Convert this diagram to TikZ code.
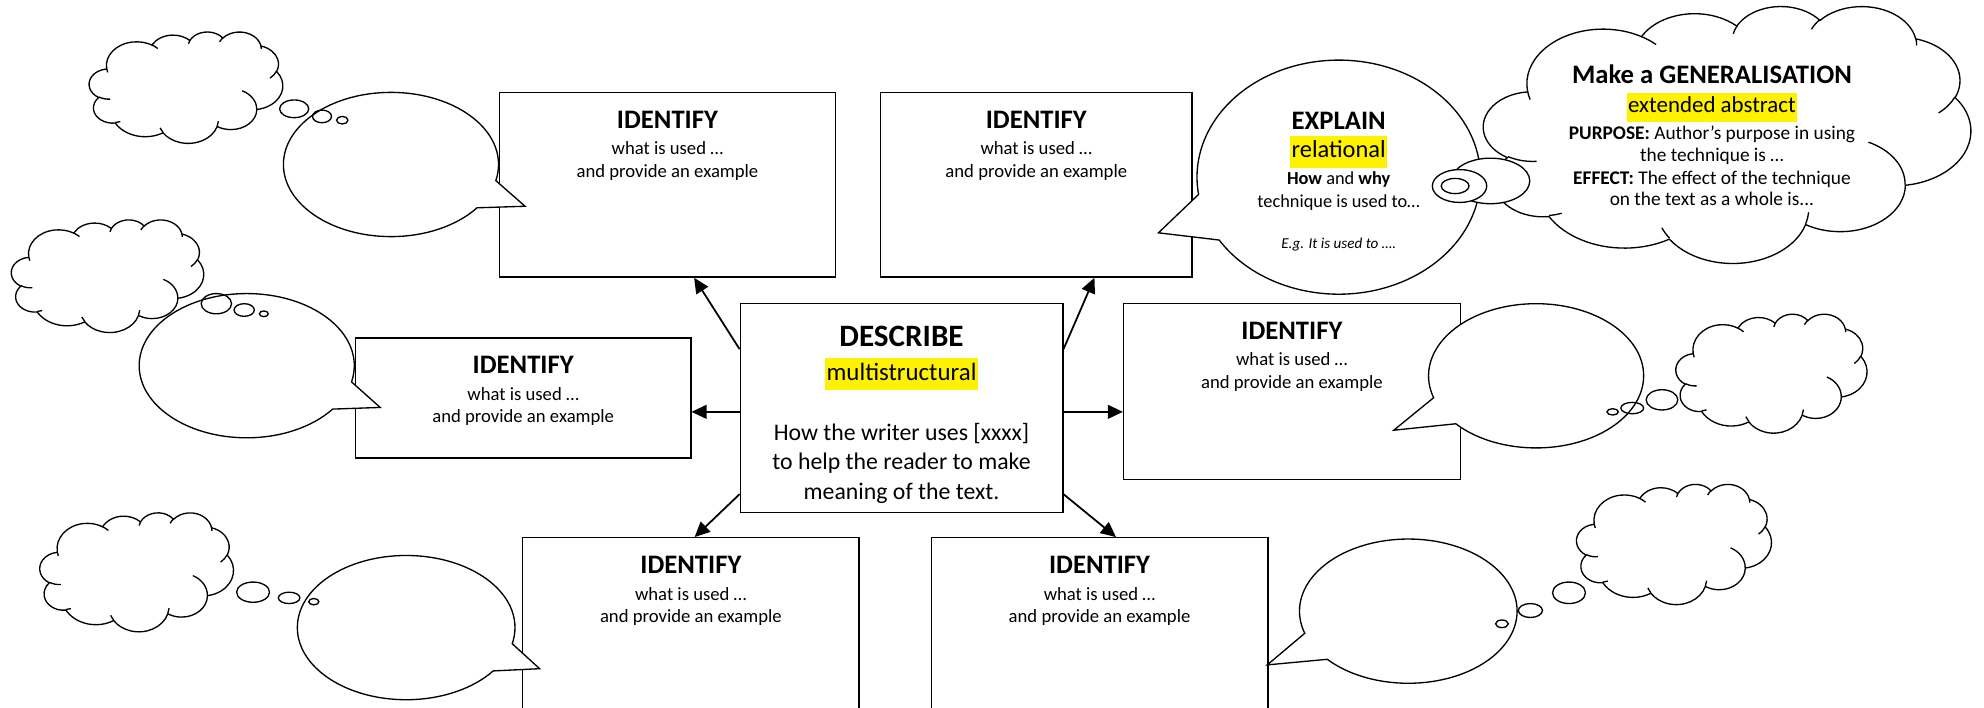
\documentclass[tikz,border=0pt]{standalone}
\usepackage{fontspec}
\setmainfont{Carlito}
\usepackage{tikz}
\usetikzlibrary{positioning,shapes.callouts,arrows.meta}
\setlength{\fboxsep}{0.6pt}
\newcommand{\hl}[1]{\colorbox{yellow}{\strut #1}}
\newcommand{\identify}{{\fontsize{12}{12}\selectfont\bfseries IDENTIFY}\\[1.7pt]what is used …\\and provide an example}

% office style cloud: radii and angles of its arcs, in a 432 x 432 box
\newcommand{\msouter}{67.53/91.90/-190.4875/123.7805, 53.33/72.67/-144.1024/89.9452,
  43.65/59.45/-145.8079/99.7230, 48.57/65.95/-130.9861/117.2417, 53.33/72.73/-78.7089/109.0269,
  67.75/92.20/-46.2673/130.2690, 57.85/78.67/0.6250/114.0333, 67.52/92.15/22.4516/115.1726,
  77.20/105.43/66.2426/75.7110, 43.60/59.18/-274.9421/146.7356, 43.45/59.45/-246.8285/152.5189}
\newcommand{\msinner}{46.93/261.77/43.45/59.45/86.7420/26.4295, 69.28/348.99/43.60/59.18/73.6105/11.4475,
  164.78/390.90/67.52/92.15/137.6242/14.0811, 288.27/347.51/67.52/92.15/6.4533/15.9984,
  341.29/229.54/57.85/78.67/-70.2924/70.9174, 417.98/153.54/53.33/72.73/30.3180/27.7515,
  383.24/54.26/48.57/65.95/-13.7443/14.8589, 290.78/39.52/48.57/65.95/-149.1815/18.1954,
  221.41/47.20/43.65/59.45/-163.4943/17.6864, 140.00/51.92/67.53/91.90/-66.7070/12.3194,
  41.27/157.89/67.53/91.90/157.6544/11.8582}
\newcommand{\msangles}[4]{%
  \pgfmathsetmacro{\msTs}{atan2((#1)*sin(#3),(#2)*cos(#3))}%
  \pgfmathsetmacro{\msTr}{atan2((#1)*sin((#3)+(#4)),(#2)*cos((#3)+(#4)))}%
  \pgfmathsetmacro{\msTe}{\msTs+(#4)+mod((\msTr)-(\msTs)-(#4)+1260,360)-180}%
}
\newcommand{\mscloud}[3]{% centre, width, height
  \begin{scope}[shift={#1}, xscale=#2/432, yscale=#3/432, shift={(-216,-216)}]
    \draw[outline] (39,143.7) foreach \wr/\hr/\st/\sw in \msouter
      {\pgfextra{\msangles{\wr}{\hr}{\st}{\sw}} arc[start angle=\msTs, end angle=\msTe, x radius=\wr, y radius=\hr]} -- cycle;
    \draw[outline] foreach \px/\py/\wr/\hr/\st/\sw in \msinner
      {(\px,\py) \pgfextra{\msangles{\wr}{\hr}{\st}{\sw}} arc[start angle=\msTs, end angle=\msTe, x radius=\wr, y radius=\hr]};
  \end{scope}
}

\tikzset{
  outline/.style={line width=0.6pt},
  idbox/.style={draw, outline, fill=white, minimum width=53.2mm, minimum height=29.2mm, inner sep=0pt},
  idtext/.style={align=center, anchor=north, inner sep=0pt, font=\fontsize{8.4}{10.1}\selectfont},
  bubble/.style={ellipse callout, draw, outline, fill=white, callout pointer arc=24, inner sep=0pt, minimum width=34mm, minimum height=22.8mm},
  trail/.style={draw, outline},
  link/.style={line width=0.8pt, -{Triangle[length=2.4mm,width=2.2mm]}},
}

\begin{document}
\begin{tikzpicture}[x=0.2mm, y=-0.2mm]
\useasboundingbox (0,0) rectangle (1568,559);

% the six IDENTIFY boxes and the DESCRIBE box
\node[idbox] (idTL) at (527.5,146) {};
\node[idbox, minimum width=49.2mm] (idTM) at (819,146) {};
\node[idbox, minimum width=53mm, minimum height=19mm] (idML) at (413.5,314.5) {};
\node[idbox, minimum height=27.8mm] (idMR) at (1021,309.5) {};
\node[idbox, minimum height=30mm] (idBL) at (546,500) {};
\node[idbox, minimum height=30mm] (idBR) at (869,500) {};
\node[idbox, minimum width=51mm, minimum height=33mm] (desc) at (712.5,322.5) {};

\node[idtext] (tTL) at ([yshift=-3mm]idTL.north) {\identify};
\node[idtext] (tTM) at ([yshift=-3mm]idTM.north) {\identify};
\node[idtext] (tML) at ([yshift=-3mm]idML.north) {\identify};
\node[idtext] (tMR) at ([yshift=-3mm]idMR.north) {\identify};
\node[idtext] (tBL) at ([yshift=-3mm]idBL.north) {\identify};
\node[idtext] (tBR) at ([yshift=-3mm]idBR.north) {\identify};
\node[idtext, font=\fontsize{10.7}{13.3}\selectfont] (tDesc) at ([yshift=-3.6mm]desc.north)
  {{\fontsize{14}{14}\selectfont\bfseries DESCRIBE}\\[1.7pt]
   {\fontsize{11.2}{13.3}\selectfont\hl{multistructural}}\\[13.7pt]
   How the writer uses [xxxx]\\to help the reader to make\\meaning of the text.};

% arrows out of DESCRIBE
\draw[link] (desc.160) -- (idTL.-74);
\draw[link] (desc.20) -- (idTM.-58);
\draw[link] ([yshift=-0.6mm]desc.west) -- ([yshift=-0.6mm]desc.west -| idML.east);
\draw[link] ([yshift=-0.6mm]desc.east) -- ([yshift=-0.6mm]desc.east -| idMR.west);
\draw[link] (desc.208) -- ([xshift=0.6mm]idBL.north);
\draw[link] (desc.-28) -- ([xshift=2.6mm]idBR.north);

% speech bubbles
\node[bubble, callout absolute pointer={([shift={(21,17)}]idTL.west)}] (sbTL) at (309,130) {};
\node[bubble, callout absolute pointer={([shift={(20,7.5)}]idML.west)}] (sbML) at (195,289) {};
\node[bubble, minimum width=34.4mm, callout absolute pointer={([shift={(14,104)}]idBL.north west)}] (sbBL) at (321,496) {};
\node[bubble, callout absolute pointer={([shift={(-53,30.5)}]idMR.east)}] (sbMR) at (1214,297) {};
\node[bubble, minimum width=34.4mm, callout absolute pointer={([shift={(-1,101)}]idBR.north east)}] (sbBR) at (1113,483) {};
\node[bubble, align=center, minimum width=44.8mm, minimum height=37mm, font=\fontsize{8.25}{10.2}\selectfont,
      callout absolute pointer={([shift={(-27,38)}]idTM.east)}] (sbEX) at (1058,140)
  {{\fontsize{12}{12}\selectfont\bfseries\rule{0pt}{11.7pt}EXPLAIN}\\[2.8pt]
   {\fontsize{11}{13}\selectfont\hl{relational}}\\[0.6pt]
   \textbf{How} and \textbf{why}\\technique is used to…\\[8.5pt]
   {\fontsize{6.8}{8}\selectfont\itshape E.g. It is used to ….}};

% thought clouds and their trails
\mscloud{(147,69)}{153}{88}
\mscloud{(85,218)}{152}{89}
\mscloud{(108,452)}{153}{94}
\mscloud{(1400,295)}{151}{94}
\mscloud{(1323,430)}{154}{95}
\mscloud{(1365,106)}{385}{203}

\draw[trail] (232.5,86) ellipse [x radius=2.3mm, y radius=1.4mm]
  (254.5,92) ellipse [x radius=1.5mm, y radius=1mm]
  (270.5,95) ellipse [x radius=0.9mm, y radius=0.6mm];
\draw[trail] (171,240) ellipse [x radius=2.4mm, y radius=1.6mm]
  (193,245) ellipse [x radius=1.6mm, y radius=1mm]
  (208.5,248) ellipse [x radius=0.7mm, y radius=0.45mm];
\draw[trail] (200,468) ellipse [x radius=2.6mm, y radius=1.6mm]
  (228.5,472.5) ellipse [x radius=1.7mm, y radius=0.9mm]
  (248,475.5) ellipse [x radius=0.8mm, y radius=0.5mm];
\draw[trail] (1313.5,316) ellipse [x radius=2.5mm, y radius=1.6mm]
  (1290,322.5) ellipse [x radius=1.8mm, y radius=0.9mm]
  (1274.5,325.5) ellipse [x radius=0.9mm, y radius=0.5mm];
\draw[trail] (1240,468.5) ellipse [x radius=2.6mm, y radius=1.7mm]
  (1209.5,482.5) ellipse [x radius=1.9mm, y radius=1.1mm]
  (1187,493) ellipse [x radius=1mm, y radius=0.6mm];
\filldraw[trail, fill=white] (1178,143) ellipse [x radius=6.2mm, y radius=3.6mm];
\filldraw[trail, fill=white] (1153.5,147) ellipse [x radius=4.3mm, y radius=2.6mm];
\draw[trail] (1150,147) ellipse [x radius=2.2mm, y radius=1.2mm];

\node[idtext, font=\fontsize{8.7}{10.2}\selectfont] (tGen) at (1353,51)
  {{\fontsize{12}{12}\selectfont\bfseries Make a GENERALISATION}\\[2.8pt]
   {\fontsize{10.3}{12}\selectfont\hl{extended abstract}}\\[0.6pt]
   \textbf{PURPOSE:} Author’s purpose in using\\the technique is …\\
   \textbf{EFFECT:} The effect of the technique\\[-0.6pt]on the text as a whole is...};
\end{tikzpicture}
\end{document}
